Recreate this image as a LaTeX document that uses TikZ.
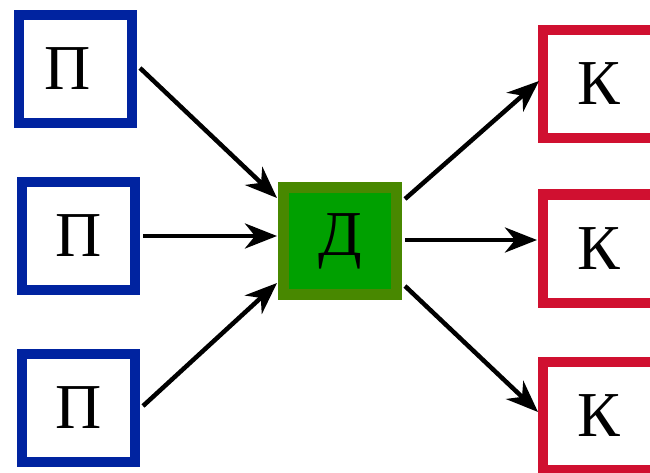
\documentclass[tikz,border=0pt]{standalone}
\usepackage{fontspec}
\setmainfont{Liberation Serif}
\usetikzlibrary{arrows.meta,calc}
\definecolor{pblue}{RGB}{0,35,160}
\definecolor{kred}{RGB}{208,16,48}
\definecolor{dfill}{RGB}{0,160,0}
\definecolor{dborder}{RGB}{72,136,0}
\begin{document}
\begin{tikzpicture}[x=1pt,y=-1pt,
  pbox/.style={draw=pblue,fill=white,line width=10pt,minimum width=113pt,minimum height=108pt,inner sep=0pt,font=\fontsize{64}{64}\selectfont},
  kbox/.style={draw=kred,fill=white,line width=10pt,minimum width=112pt,minimum height=108pt,inner sep=0pt,font=\fontsize{64}{64}\selectfont},
  dbox/.style={draw=dborder,fill=dfill,line width=11pt,minimum width=113pt,minimum height=107pt,inner sep=0pt,font=\fontsize{64}{64}\selectfont},
  arr/.style={line width=4.5pt,-{Stealth[length=32pt,width=25pt,inset=10pt]}}]
\useasboundingbox (0,0) rectangle (650,473);
\node[pbox,label={[xshift=-8pt,font=\fontsize{64}{64}\selectfont]center:П}] (p1) at (75.5,69) {};
\node[pbox] (p2) at (78.5,236) {П};
\node[pbox] (p3) at (78.5,408) {П};
\node[dbox] (d) at (340,241) {Д};
\node[kbox] (k1) at (599,84) {К};
\node[kbox] (k2) at (599,248.5) {К};
\node[kbox] (k3) at (599,416) {К};
\draw[arr] ($(p1.east)+(3,-1)$) -- ($(d.west)+(-1,-43)$);
\draw[arr] ($(p2.east)+(3,0)$) -- ($(d.west)+(-1,-5)$);
\draw[arr] ($(p3.east)+(3,-2)$) -- ($(d.west)+(-1,42)$);
\draw[arr] ($(d.east)+(3,-42)$) -- ($(k1.west)+(1,-3)$);
\draw[arr] ($(d.east)+(3,-1)$) -- ($(k2.west)+(-1,-8.5)$);
\draw[arr] ($(d.east)+(3,45)$) -- ($(k3.west)+(0,-4)$);
\end{tikzpicture}
\end{document}
